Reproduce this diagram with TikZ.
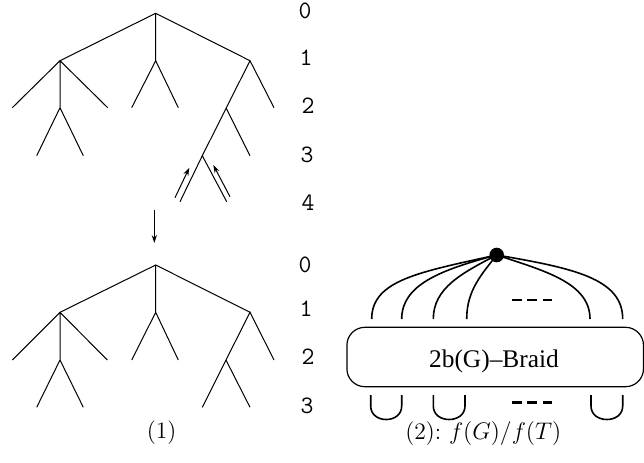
\documentclass[tikz,border=0pt]{standalone}
\usepackage{fontspec}
\newfontfamily\timesfont[Ligatures=TeX]{Liberation Serif}
\usetikzlibrary{arrows.meta}
\begin{document}
\begin{tikzpicture}[x=0.5pt,y=-0.5pt,
  tree/.style={line width=0.5pt},
  strand/.style={line width=0.8pt},
  lvl/.style={font=\ttfamily\fontsize{12.5}{14}\selectfont, inner sep=0pt},
  captext/.style={inner sep=0pt, font=\fontsize{11.8}{14}\selectfont},
  smallarrow/.style={line width=0.5pt,-{Stealth[length=4pt,width=2.6pt]}},
  dashbar/.style={line width=1.3pt}]
\useasboundingbox (0,0) rectangle (644,462);
% ---------- top tree ----------
\coordinate (r) at (155.7,13.3);
\coordinate (a) at (60,60.7);
\coordinate (b) at (155.7,60.7);
\coordinate (c) at (250,60.7);
\coordinate (a1) at (12.3,107.7);
\coordinate (a2) at (60,107.7);
\coordinate (a3) at (107.7,107.7);
\coordinate (a21) at (36.7,155.7);
\coordinate (a22) at (83.3,155.7);
\coordinate (b1) at (131.7,107.7);
\coordinate (b2) at (178.3,107.7);
\coordinate (c1) at (226,107.7);
\coordinate (c2) at (274,107.7);
\coordinate (c11) at (202.3,155.7);
\coordinate (c12) at (250,155.7);
\coordinate (c111) at (180,201.7);
\coordinate (c112) at (226.7,201.7);
\draw[tree] (a) -- (r) -- (c) (r) -- (b);
\draw[tree] (a1) -- (a) -- (a3) (a) -- (a2) (a21) -- (a2) -- (a22);
\draw[tree] (b1) -- (b) -- (b2);
\draw[tree] (c11) -- (c) -- (c2) (c1) -- (c12) (c111) -- (c11) -- (c112);
\coordinate (p1s) at (175,197.7);
\coordinate (p1e) at (189.3,167.7);
\coordinate (p2s) at (230,196.7);
\coordinate (p2e) at (213.3,165);
\draw[smallarrow] (p1s) -- (p1e);
\draw[smallarrow] (p2s) -- (p2e);
\node[lvl] (t0) at (305,11) {0};
\node[lvl] (t1) at (306,57.5) {1};
\node[lvl] (t2) at (308,105.7) {2};
\node[lvl] (t3) at (307,155) {3};
\node[lvl] (t4) at (308,202.5) {4};
% ---------- arrow between ----------
\coordinate (ds) at (154.3,210);
\coordinate (de) at (154.3,243);
\draw[line width=0.5pt,-{Stealth[length=4pt,width=2.6pt]}] (ds) -- (de);
% ---------- bottom tree ----------
\coordinate (R) at (155.7,265);
\coordinate (A) at (60,312.3);
\coordinate (B) at (155.7,312.3);
\coordinate (C) at (250,312.3);
\coordinate (A1) at (12.3,360);
\coordinate (A2) at (60,360);
\coordinate (A3) at (107.3,360);
\coordinate (A21) at (36.7,407.3);
\coordinate (A22) at (83.3,407.3);
\coordinate (B1) at (131.7,360);
\coordinate (B2) at (178.3,360);
\coordinate (C1) at (226,360);
\coordinate (C2) at (274,360);
\coordinate (C11) at (202.3,407.3);
\coordinate (C12) at (250,407.3);
\draw[tree] (A) -- (R) -- (C) (R) -- (B);
\draw[tree] (A1) -- (A) -- (A3) (A) -- (A2) (A21) -- (A2) -- (A22);
\draw[tree] (B1) -- (B) -- (B2);
\draw[tree] (C1) -- (C) -- (C2) (C11) -- (C1) -- (C12);
\node[lvl] (u0) at (305,264.5) {0};
\node[lvl] (u1) at (306,308.5) {1};
\node[lvl] (u2) at (308,356.5) {2};
\node[lvl] (u3) at (307,406) {3};
\node[captext] (cap1) at (161.7,433) {(1)};
% ---------- braid diagram ----------
\node[draw, line width=0.6pt, rounded corners=9pt, minimum width=296.6pt*0.5, minimum height=59.4pt*0.5, inner sep=0pt] (box) at (495.2,357) {};
\node[font=\timesfont\fontsize{12.7}{14}\selectfont, inner sep=0pt] (lab) at (494,361) {2b(G)–Braid};
\coordinate (dot) at (496.7,255);
\coordinate (e1) at (371.7,319);
\coordinate (e2) at (401.7,319);
\coordinate (e3) at (433.3,319);
\coordinate (e4) at (466.7,319);
\coordinate (e5) at (590,319);
\coordinate (e6) at (622.7,319);
\draw[strand] (dot) .. controls (420,272) and (371.7,280) .. (e1);
\draw[strand] (dot) .. controls (440,270) and (401.7,285) .. (e2);
\draw[strand] (dot) .. controls (462,273) and (433.3,288) .. (e3);
\draw[strand] (dot) .. controls (482,274) and (466.7,290) .. (e4);
\draw[strand] (dot) .. controls (545,271) and (590,283) .. (e5);
\draw[strand] (dot) .. controls (572,268) and (622.7,278) .. (e6);
\fill (dot) circle[radius=7.3];
\coordinate (h1a) at (511.7,300); \coordinate (h1b) at (521.5,300);
\coordinate (h2a) at (527,300); \coordinate (h2b) at (537,300);
\coordinate (h3a) at (542.5,300); \coordinate (h3b) at (552,300);
\draw[dashbar] (h1a) -- (h1b) (h2a) -- (h2b) (h3a) -- (h3b);
\coordinate (k1a) at (511.7,402.7); \coordinate (k1b) at (521.5,402.7);
\coordinate (k2a) at (527,402.7); \coordinate (k2b) at (537,402.7);
\coordinate (k3a) at (542.5,402.7); \coordinate (k3b) at (552,402.7);
\draw[dashbar] (k1a) -- (k1b) (k2a) -- (k2b) (k3a) -- (k3b);
% cups
\coordinate (c1l) at (370.7,395); \coordinate (c1r) at (401.7,395);
\coordinate (c2l) at (433.3,395); \coordinate (c2r) at (465,395);
\coordinate (c3l) at (591,395); \coordinate (c3r) at (622.7,395);
\draw[strand] (c1l) -- (370.7,406) .. controls (370.7,424) and (401.7,424) .. (401.7,406) -- (c1r);
\draw[strand] (c2l) -- (433.3,406) .. controls (433.3,424) and (465,424) .. (465,406) -- (c2r);
\draw[strand] (c3l) -- (591,406) .. controls (591,424) and (622.7,424) .. (622.7,406) -- (c3r);
\node[captext] (cap2) at (483.3,433) {(2):~$f(G)/f(T)$};
\end{tikzpicture}
\end{document}
